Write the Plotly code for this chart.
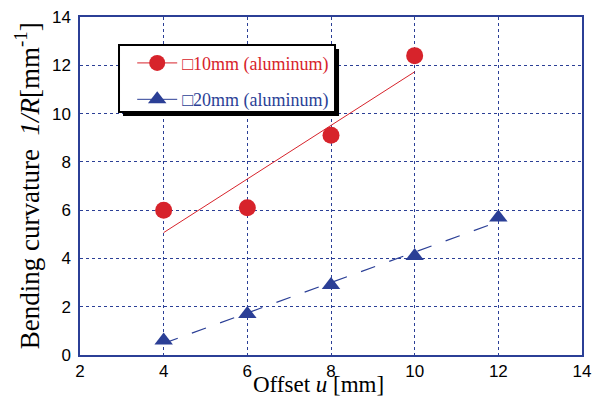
import numpy as np
import plotly.graph_objects as go

x10 = [4, 6, 8, 10]
y10 = [6.0, 6.1, 9.1, 12.4]
x20 = [4, 6, 8, 10, 12]
y20 = [0.6, 1.7, 2.9, 4.1, 5.7]
name10 = "□10mm (aluminum)"
name20 = "□20mm (aluminum)"
xticks = [2, 4, 6, 8, 10, 12, 14]
yticks = [0, 2, 4, 6, 8, 10, 12, 14]

RED = "#d7232b"
BLUE = "#2b3f96"
SERIF = "Liberation Serif, Times New Roman, serif"

def fit(x, y):
    k, b = np.polyfit(x, y, 1)
    xs = np.array([min(x), max(x)], dtype=float)
    return xs, k * xs + b

fig = go.Figure()
fx, fy = fit(x10, y10)
fig.add_trace(go.Scatter(x=fx, y=fy, mode="lines", line=dict(color=RED, width=1), showlegend=False))
gx, gy = fit(x20, y20)
fig.add_trace(go.Scatter(x=gx, y=gy, mode="lines", line=dict(color=BLUE, width=1.2, dash="longdash"), showlegend=False))
fig.add_trace(go.Scatter(x=x10, y=y10, mode="markers", marker=dict(color=RED, size=17, symbol="circle"), showlegend=False))
fig.add_trace(go.Scatter(x=x20, y=y20, mode="markers", marker=dict(color=BLUE, size=16, symbol="triangle-up"), showlegend=False))
# legend entries
fig.add_trace(go.Scatter(x=[None], y=[None], mode="lines+markers",
                         name=f"<span style='color:{RED}'>{name10}</span>", legendgroup="a",
                         line=dict(color=RED, width=1), marker=dict(color=RED, size=17, symbol="circle")))
fig.add_trace(go.Scatter(x=[None], y=[None], mode="lines+markers",
                         name=f"<span style='color:{BLUE}'>{name20}</span>", legendgroup="b",
                         line=dict(color=BLUE, width=1), marker=dict(color=BLUE, size=16, symbol="triangle-up")))

# legend box with shadow
fig.add_shape(type="rect", xref="paper", yref="paper", x0=0.0857, x1=0.516, y0=0.707, y1=0.905,
              fillcolor="black", line=dict(width=0), layer="above")
fig.add_shape(type="rect", xref="paper", yref="paper", x0=0.0777, x1=0.508, y0=0.719, y1=0.917,
              fillcolor="white", line=dict(color="black", width=2), layer="above")

tickfont = dict(family="Liberation Sans Narrow, Arial Narrow, sans-serif", size=17, color="black")
axis_common = dict(showline=True, linecolor=BLUE, linewidth=1.5, mirror=True,
                   showgrid=True, gridcolor=BLUE, griddash="dot", gridwidth=1,
                   zeroline=False, ticks="", tickfont=tickfont, automargin=False)

fig.add_annotation(text="Offset <i>u</i> [mm]", xref="paper", yref="paper", x=0.475, y=-0.088,
                   xanchor="center", yanchor="middle", showarrow=False,
                   font=dict(family=SERIF, size=23, color="black"))
fig.add_annotation(text="Bending curvature  <i>1/R</i>[mm<sup>-1</sup>]", xref="paper", yref="paper",
                   x=-0.105, y=0.5, xanchor="center", yanchor="middle", showarrow=False, textangle=-90,
                   font=dict(family=SERIF, size=27, color="black"))

fig.update_layout(
    width=601, height=399,
    margin=dict(l=80, r=19, t=17, b=44),
    paper_bgcolor="white", plot_bgcolor="white",
    font=dict(family=SERIF, color="black"),
    xaxis=dict(range=[2, 14], tickvals=xticks, **axis_common),
    yaxis=dict(range=[0, 14], tickvals=yticks, ticklabelstandoff=4, **axis_common),
    legend=dict(x=0.104, y=0.918, xanchor="left", yanchor="top", bgcolor="rgba(0,0,0,0)",
                borderwidth=0, tracegroupgap=10, font=dict(family=SERIF, size=18),
                itemwidth=40),
)
fig.write_html("out.html", config={"displayModeBar": False},
               post_script="document.body.style.margin='0';document.body.style.overflow='hidden';")
